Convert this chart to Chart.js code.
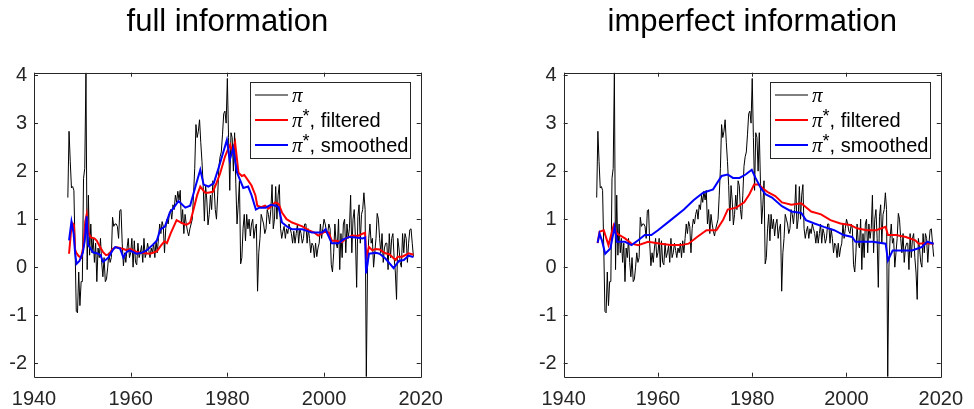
<!DOCTYPE html>
<html>
<head>
<meta charset="utf-8">
<script src="https://cdn.jsdelivr.net/npm/chart.js@4"></script>
<style>
  body { margin: 0; background: #fff; }
  .panel { position: absolute; top: 0; }
</style>
</head>
<body>
<canvas id="chartFull" class="panel" width="487" height="409" style="left:0"></canvas>
<canvas id="chartImperfect" class="panel" width="487" height="409" style="left:487px"></canvas>
<script>
// Inflation, quarterly, starting 1947Q1 (percent per quarter)
const piStartYear = 1947;
const piQuarterly = [
  1.45, 2.83, 2.2, 1.65,   1.68, 1.6, 0.4, -0.92,   -0.95, -0.1, -0.8, -0.3,   -0.3, 1.85, 2.06, 4.05,
  -0.05, 1.5, 0.25, 0.9,   0.3, 0.6, 0.1, 0.5,      -0.3, 0.4, 0.2, 0.6,       0.1, -0.2, 0.2, -0.3,
  -0.25, 0.0, 0.3, 0.1,    0.2, 1.04, 0.85, 0.9,    0.9, 0.85, 0.6, 1.18,      1.2, 0.5, 0.03, 0.3,
  0.1, 0.4, 0.6, 0.2,      0.3, 0.6, 0.0, 0.55,     0.1, 0.05, 0.5, 0.2,       0.3, 0.45, 0.1, 0.6,
  0.2, 0.3, 0.5, 0.35,     0.2, 0.4, 0.3, 0.5,      0.2, 0.55, 0.3, 0.6,       0.9, 0.7, 0.95, 0.85,
  0.3, 0.8, 1.0, 0.9,      1.1, 1.2, 1.0, 1.3,      1.2, 1.5, 1.35, 1.58,      1.4, 1.6, 0.9, 1.2,
  0.7, 1.1, 0.9, 0.75,     0.65, 0.8, 0.9, 1.0,     1.5, 2.06, 2.97, 2.7,      2.83, 3.07, 2.6, 2.2,
  1.7, 0.96, 1.7, 1.4,     0.88, 1.1, 1.5, 1.2,     1.8, 1.7, 1.2, 1.0,        1.5, 2.1, 2.3, 2.4,
  2.77, 3.2, 3.25, 3.0,    3.93, 2.7, 1.6, 2.8,     2.7, 2.0, 2.8, 1.75,       0.9, 1.3, 1.8, 0.07,
  0.2, 0.8, 1.1, 0.55,     1.1, 0.8, 1.0, 0.65,     0.9, 1.0, 0.6, 0.8,        0.9, -0.5, 0.3, 0.6,
  1.1, 1.0, 0.9, 0.7,      0.8, 1.2, 1.1, 0.9,      1.2, 1.72, 0.8, 1.0,       1.68, 1.0, 1.5, 1.72,
  0.81, 0.6, 0.75, 0.85,   0.6, 0.8, 0.7, 0.9,      0.8, 0.7, 0.5, 0.75,       0.5, 0.7, 0.9, 0.5,
  0.8, 0.7, 0.5, 0.6,      0.9, 0.9, 0.5, 0.8,      0.6, 0.3, 0.5, 0.45,       0.2, 0.5, 0.22, 0.4,
  0.5, 0.9, 0.6, 0.8,      1.0, 0.9, 0.75, 0.7,     0.9, 0.8, 0.05, -0.1,      0.3, 0.9, 0.5, 0.4,
  1.0, -0.05, 0.7, 0.2,    0.9, 1.0, 0.3, 0.9,      0.6, 0.8, 1.5, 0.3,        1.0, 1.2, 0.6, -0.42,
  1.05, 1.3, 0.5, 1.1,     1.2, 1.55, 1.2, -2.28,   0.0, 0.6, 0.9, 0.5,        0.6, 0.0, 0.3, 0.6,
  1.12, 1.0, 0.6, 0.3,     0.7, 0.1, 0.4, 0.5,      0.5, -0.05, 0.7, 0.2,      0.6, 0.7, 0.2, -0.1,
  -0.67, 0.6, 0.4, 0.1,    0.0, 0.7, 0.3, 0.7,      0.6, 0.1, 0.5, 0.78,       0.8, 0.5, 0.22
];

// Trend estimates [year, value], full information
const fullFiltered = [
  [1947.25, 0.28], [1947.75, 0.85], [1948.0, 0.91], [1948.25, 0.88], [1948.5, 0.37], [1948.75, 0.3],
  [1949.25, 0.23], [1949.75, 0.2], [1950.25, 0.45], [1950.6, 0.95], [1950.9, 1.1], [1951.25, 0.72],
  [1951.75, 0.62], [1952.5, 0.6], [1953, 0.55], [1953.5, 0.45], [1954.25, 0.32], [1954.9, 0.25],
  [1955.5, 0.27], [1956.25, 0.38], [1957, 0.42], [1957.75, 0.4], [1958.5, 0.38], [1959, 0.36],
  [1960, 0.38], [1961, 0.33], [1962, 0.3], [1963, 0.29], [1964, 0.28], [1965.4, 0.33],
  [1966.25, 0.45], [1967, 0.54], [1967.5, 0.5], [1968.25, 0.7], [1969.5, 0.98], [1970.6, 0.92],
  [1971.5, 0.88], [1972.3, 0.93], [1973, 1.2], [1973.75, 1.5], [1974.4, 1.68], [1975.4, 1.55],
  [1976, 1.55], [1977, 1.57], [1977.75, 1.75], [1978.5, 1.95], [1979.5, 2.3], [1980.1, 2.45],
  [1980.6, 2.55], [1981.0, 2.4], [1981.6, 2.6], [1982.3, 1.97], [1983, 1.9], [1983.5, 1.92],
  [1984, 1.85], [1985, 1.7], [1985.8, 1.5], [1986.2, 1.28], [1987, 1.25], [1987.8, 1.28],
  [1988.5, 1.22], [1989.9, 1.35], [1990.6, 1.32], [1991.3, 1.14], [1992.25, 1.0], [1993.4, 0.93],
  [1994.7, 0.88], [1995.5, 0.85], [1996.8, 0.77], [1998, 0.72], [1998.8, 0.66], [2000.2, 0.74],
  [2001, 0.72], [2001.6, 0.55], [2002.5, 0.55], [2003.7, 0.52], [2004.5, 0.6], [2005.9, 0.66],
  [2007, 0.65], [2008, 0.7], [2008.5, 0.72], [2008.75, 0.2], [2009.3, 0.42], [2010, 0.35],
  [2010.6, 0.38], [2011.5, 0.37], [2012.7, 0.29], [2013.5, 0.27], [2014.8, 0.15], [2015.25, 0.22],
  [2016.2, 0.22], [2017.5, 0.29], [2018.5, 0.26]
];
const fullSmoothed = [
  [1947.25, 0.56], [1947.75, 0.95], [1948.2, 0.7], [1948.5, 0.3], [1948.8, 0.07], [1949.4, 0.13],
  [1950.1, 0.3], [1950.5, 0.55], [1950.9, 1.06], [1951.2, 0.47], [1952.2, 0.31], [1953.3, 0.28],
  [1953.75, 0.25], [1954.3, 0.11], [1955.4, 0.2], [1956.25, 0.35], [1956.8, 0.42], [1957.8, 0.39],
  [1958.5, 0.2], [1959.2, 0.32], [1959.8, 0.35], [1961.2, 0.28], [1962.25, 0.3], [1963.3, 0.35],
  [1964.6, 0.47], [1965.4, 0.55], [1966.1, 0.78], [1967.1, 0.85], [1968.1, 1.14], [1969.0, 1.25],
  [1969.9, 1.38], [1971.3, 1.24], [1972.3, 1.28], [1973.4, 1.68], [1974.4, 2.03], [1975.1, 1.72],
  [1976.1, 1.68], [1977.2, 1.75], [1978.5, 2.17], [1979.9, 2.65], [1980.5, 2.23], [1981.2, 2.48],
  [1982, 1.97], [1983.3, 1.65], [1984.3, 1.68], [1985, 1.5], [1985.9, 1.2], [1986.6, 1.24],
  [1987.9, 1.24], [1989, 1.3], [1990, 1.28], [1990.6, 1.25], [1991.3, 0.93], [1992.3, 0.85],
  [1993.4, 0.79], [1995.5, 0.79], [1997.5, 0.72], [1999.6, 0.72], [2000.3, 0.79], [2001.6, 0.5],
  [2003, 0.5], [2004, 0.58], [2005.2, 0.63], [2006.6, 0.62], [2008, 0.6], [2008.5, 0.62],
  [2008.7, -0.13], [2009.3, 0.28], [2010.7, 0.3], [2011.5, 0.28], [2012.7, 0.18], [2014.4, -0.02],
  [2015.5, 0.13], [2016.5, 0.15], [2017.5, 0.24], [2018.5, 0.21]
];

// Trend estimates [year, value], imperfect information
const impFiltered = [
  [1947.2, 0.5], [1947.6, 0.74], [1948.5, 0.77], [1949.5, 0.46], [1950.6, 0.87], [1951.3, 0.7],
  [1953, 0.6], [1954.4, 0.49], [1955.8, 0.46], [1957.9, 0.53], [1960.6, 0.49], [1962.7, 0.46],
  [1964.8, 0.46], [1966.5, 0.49], [1968.3, 0.63], [1970.3, 0.77], [1972.4, 0.77], [1973.8, 0.98],
  [1974.8, 1.2], [1976.6, 1.24], [1978.3, 1.35], [1979.4, 1.52], [1980.4, 1.72], [1981.4, 1.72],
  [1982.5, 1.62], [1983.5, 1.55], [1984.9, 1.48], [1986.3, 1.35], [1988.3, 1.3], [1990.4, 1.33],
  [1992.5, 1.16], [1994.6, 1.1], [1996.6, 0.98], [1998.7, 0.91], [2000.8, 0.88], [2002.2, 0.81],
  [2004.3, 0.77], [2006.3, 0.77], [2008.3, 0.84], [2008.8, 0.67], [2010.5, 0.67], [2012.6, 0.63],
  [2014.6, 0.56], [2015.3, 0.49], [2016.7, 0.5], [2018.5, 0.49]
];
const impSmoothed = [
  [1947.2, 0.51], [1947.6, 0.7], [1948.1, 0.56], [1948.8, 0.28], [1949.9, 0.39], [1950.8, 0.84],
  [1951.3, 0.53], [1953, 0.53], [1954.4, 0.46], [1955.8, 0.56], [1957.2, 0.67], [1958.6, 0.67],
  [1960, 0.77], [1962.7, 0.98], [1965.5, 1.2], [1967.6, 1.4], [1969.6, 1.55], [1971.7, 1.62],
  [1973.5, 1.9], [1974.8, 1.93], [1975.9, 1.86], [1977.3, 1.86], [1978.6, 1.93], [1979.9, 2.03],
  [1980.7, 1.86], [1981.8, 1.65], [1982.8, 1.52], [1984.2, 1.45], [1986.3, 1.27], [1988.3, 1.16],
  [1990.4, 1.13], [1991.4, 0.98], [1993.2, 0.91], [1995.2, 0.84], [1997.4, 0.77], [1999.4, 0.67],
  [2001.2, 0.63], [2001.9, 0.53], [2004.3, 0.53], [2005.6, 0.53], [2008.3, 0.49], [2008.8, 0.14],
  [2009.8, 0.35], [2011.9, 0.35], [2013.9, 0.35], [2016, 0.42], [2017.1, 0.53], [2018.5, 0.49]
];

// Axis ticks
const xTicks = [1940, 1960, 1980, 2000, 2020];
const yTicks = [-2, -1, 0, 1, 2, 3, 4];
const seriesLabels = ['π', 'π*, filtered', 'π*, smoothed'];

const AXIS_COLOR = '#262626';
const SANS = '"Liberation Sans", Arial, sans-serif';

const piPoints = piQuarterly.map((v, i) => ({ x: piStartYear + i / 4, y: v }));
const toPoints = arr => arr.map(([x, y]) => ({ x, y }));

// Box around the axes with inward ticks on every side
const boxPlugin = {
  id: 'matlabBox',
  afterDatasetsDraw(chart) {
    const { ctx, chartArea: a, scales } = chart;
    ctx.save();
    ctx.strokeStyle = AXIS_COLOR;
    ctx.lineWidth = 1;
    ctx.beginPath();
    ctx.rect(Math.round(a.left) + 0.5, Math.round(a.top) + 0.5,
      Math.round(a.right) - Math.round(a.left), Math.round(a.bottom) - Math.round(a.top));
    xTicks.forEach(v => {
      const px = Math.round(scales.x.getPixelForValue(v)) + 0.5;
      ctx.moveTo(px, a.bottom); ctx.lineTo(px, a.bottom - 4);
      ctx.moveTo(px, a.top); ctx.lineTo(px, a.top + 4);
    });
    yTicks.forEach(v => {
      const py = Math.round(scales.y.getPixelForValue(v)) + 0.5;
      ctx.moveTo(a.left, py); ctx.lineTo(a.left + 4, py);
      ctx.moveTo(a.right, py); ctx.lineTo(a.right - 4, py);
    });
    ctx.stroke();
    ctx.restore();
  }
};

// Legend box in the top right corner of the axes
const legendPlugin = {
  id: 'matlabLegend',
  afterDatasetsDraw(chart) {
    const { ctx, chartArea: a } = chart;
    const w = 160, h = 76;
    const x0 = Math.round(a.right - 10.5 - w), y0 = Math.round(a.top + 9.5);
    ctx.save();
    ctx.fillStyle = '#fff';
    ctx.fillRect(x0, y0, w, h);
    ctx.strokeStyle = AXIS_COLOR;
    ctx.lineWidth = 1;
    ctx.strokeRect(x0 + 0.5, y0 + 0.5, w, h);
    chart.data.datasets.forEach((ds, i) => {
      const yy = y0 + 13 + i * 25;
      ctx.strokeStyle = ds.borderColor;
      ctx.lineWidth = ds.borderWidth;
      ctx.beginPath();
      ctx.moveTo(x0 + 5, yy); ctx.lineTo(x0 + 38, yy);
      ctx.stroke();
      // label: italic pi, raised star, rest in sans
      let tx = x0 + 42;
      ctx.fillStyle = '#000';
      ctx.textBaseline = 'middle';
      const label = ds.label;
      ctx.font = 'italic 21px "Liberation Serif", serif';
      ctx.fillText(label[0], tx, yy + 1);
      tx += ctx.measureText(label[0]).width;
      let rest = label.slice(1);
      if (rest.startsWith('*')) {
        ctx.font = '18px ' + SANS;
        ctx.fillText('*', tx, yy - 3);
        tx += ctx.measureText('*').width;
        rest = rest.slice(1);
      }
      ctx.font = '20px ' + SANS;
      ctx.fillText(rest, tx, yy + 1);
    });
    ctx.restore();
  }
};

function makePanel(canvasId, titleText, filtered, smoothed, padLeft, padRight) {
  const ctx = document.getElementById(canvasId).getContext('2d');
  return new Chart(ctx, {
    type: 'line',
    data: {
      datasets: [
        { label: seriesLabels[0], data: piPoints, borderColor: '#000', borderWidth: 1, order: 3 },
        { label: seriesLabels[1], data: toPoints(filtered), borderColor: '#ff0000', borderWidth: 2, order: 2 },
        { label: seriesLabels[2], data: toPoints(smoothed), borderColor: '#0000ff', borderWidth: 2, order: 1 }
      ]
    },
    options: {
      responsive: false,
      animation: false,
      elements: { point: { radius: 0 }, line: { tension: 0, fill: false } },
      layout: { padding: { left: padLeft, right: padRight, top: 0, bottom: 0 } },
      plugins: {
        legend: { display: false },
        tooltip: { enabled: false },
        title: {
          display: true,
          text: titleText,
          fullSize: false,
          color: '#000',
          font: { family: SANS, size: 31, weight: 'normal', lineHeight: 1.2 },
          padding: { top: 4, bottom: 31.5 }
        }
      },
      scales: {
        x: {
          type: 'linear',
          min: 1940,
          max: 2020,
          grid: { display: false, drawTicks: false },
          border: { display: false },
          ticks: {
            stepSize: 20,
            color: AXIS_COLOR,
            padding: 11,
            font: { family: SANS, size: 20 },
            callback: v => String(v)
          },
          afterFit: s => { s.height = 32.3; }
        },
        y: {
          type: 'linear',
          min: -2.28,
          max: 4.05,
          grid: { display: false, drawTicks: false },
          border: { display: false },
          ticks: {
            stepSize: 1,
            includeBounds: false,
            color: AXIS_COLOR,
            padding: 7,
            font: { family: SANS, size: 20 },
            callback: v => String(v)
          },
          afterFit: s => { s.width = 34; }
        }
      }
    },
    plugins: [boxPlugin, legendPlugin]
  });
}

makePanel('chartFull', 'full information', fullFiltered, fullSmoothed, 0, 66.3);
makePanel('chartImperfect', 'imperfect information', impFiltered, impSmoothed, 42.7, 24.3);
</script>
</body>
</html>
